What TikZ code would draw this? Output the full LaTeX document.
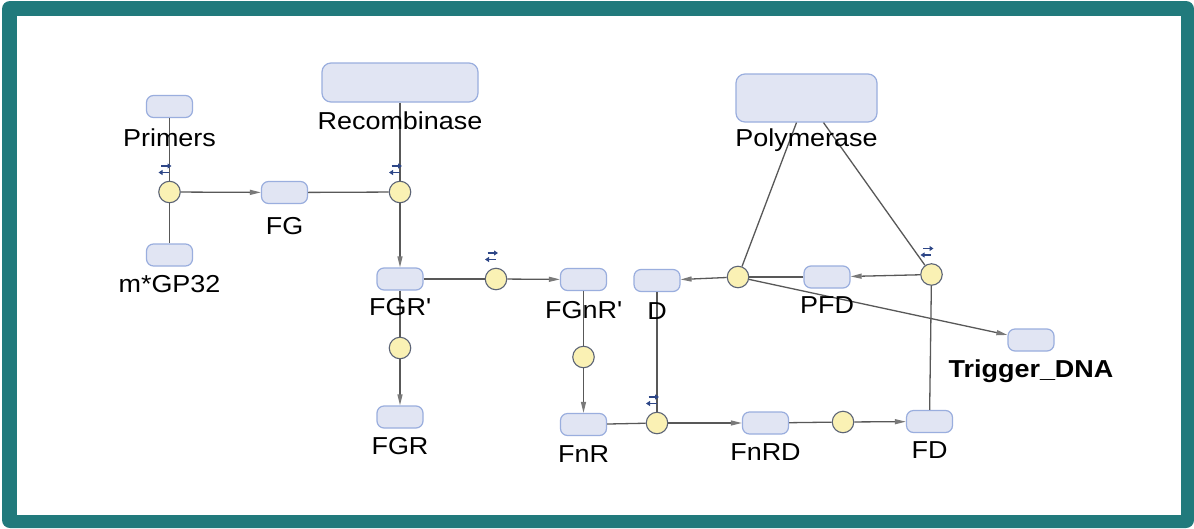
\documentclass[tikz,border=0pt]{standalone}
\usepackage{fontspec}
\setmainfont{Liberation Sans}[FakeStretch=1.1]
\usetikzlibrary{positioning,arrows.meta}

\definecolor{frameteal}{RGB}{33,122,124}
\definecolor{speciesfill}{RGB}{225,229,243}
\definecolor{speciesedge}{RGB}{154,174,222}
\definecolor{reactfill}{RGB}{250,241,180}
\definecolor{reactedge}{RGB}{92,100,118}
\definecolor{linkgray}{RGB}{88,88,88}
\definecolor{revblue}{RGB}{45,70,135}

\tikzset{
  species/.style={draw=speciesedge, fill=speciesfill, line width=1.2pt, rounded corners=7pt,
    minimum width=46pt, minimum height=22pt, inner sep=0pt},
  reaction/.style={circle, draw=reactedge, fill=reactfill, line width=1.1pt,
    minimum size=21.5pt, inner sep=0pt},
  lbl/.style={inner sep=0pt, font=\fontsize{24.5}{28}\selectfont},
  link/.style={draw=linkgray, line width=1.3pt},
  flow/.style={link, -{Triangle[length=11pt,width=5pt,color=linkgray!80]}},
  revmark/.style={draw=revblue, line width=1.3pt, -{Triangle[length=4pt,width=5pt]}},
}

\begin{document}
\begin{tikzpicture}[x=1pt,y=-1pt]
    \fill[white] (0,0) rectangle (1194,528);
    \fill[frameteal, rounded corners=8pt] (2,1) rectangle (1194,528);
    \fill[white] (17,16) rectangle (1181,515);

    \node[species] (prim) at (169.5,106.5) {};
    \node[species] (gp32) at (169.5,255) {};
    \node[species] (fg) at (284.5,192.5) {};
    \node[species, minimum width=156pt, minimum height=39pt, rounded corners=9pt] (rec) at (400,82.5) {};
    \node[species] (fgrp) at (400,279) {};
    \node[species] (fgr) at (400,417) {};
    \node[species] (fgnrp) at (583.5,279.5) {};
    \node[species] (fnr) at (583.5,424.5) {};
    \node[species] (dna) at (657,280.5) {};
    \node[species] (fnrd) at (765.5,423) {};
    \node[species] (fd) at (929.5,421.5) {};
    \node[species] (pfd) at (827,277) {};
    \node[species, minimum width=141pt, minimum height=48pt, rounded corners=9pt] (pol) at (806.5,98) {};
    \node[species] (trig) at (1031,340) {};

    \node[reaction] (r1) at (169.5,192) {};
    \node[reaction] (r2) at (400,192) {};
    \node[reaction] (r3) at (496,279) {};
    \node[reaction] (r4) at (400,348) {};
    \node[reaction] (r5) at (583.5,357) {};
    \node[reaction] (r6) at (657,423) {};
    \node[reaction] (r7) at (843,422) {};
    \node[reaction] (r8) at (738,277) {};
    \node[reaction] (r9) at (931.5,274.5) {};

    \draw[link] (prim) -- (r1);
    \draw[link] (gp32) -- (r1);
    \draw[flow] (r1) -- (fg);
    \draw[link] (fg) -- (r2);
    \draw[link] (rec) -- (r2);
    \draw[flow] (r2) -- (fgrp);
    \draw[link] (fgrp) -- (r3);
    \draw[flow] (r3) -- (fgnrp);
    \draw[link] (fgrp) -- (r4);
    \draw[flow] (r4) -- (fgr);
    \draw[link] (fgnrp) -- (r5);
    \draw[flow] (r5) -- (fnr);
    \draw[link] (fnr) -- (r6);
    \draw[link] (dna) -- (r6);
    \draw[flow] (r6) -- (fnrd);
    \draw[link] (fnrd) -- (r7);
    \draw[flow] (r7) -- (fd);
    \draw[link] (fd) -- (r9);
    \draw[link] ([xshift=17pt]pol.south) -- (r9);
    \draw[flow] (r9) -- (pfd);
    \draw[link] (pfd) -- (r8);
    \draw[link] ([xshift=-10pt]pol.south) -- (r8);
    \draw[flow] (r8) -- (dna);
    \draw[flow] (r8) -- (trig);

    \foreach \r in {r1,r2,r3,r6,r9} {
        \draw[revmark] ([xshift=-8.5pt, yshift=26pt]\r.center) -- ++(10.5,0);
        \draw[revmark] ([xshift=-0.5pt, yshift=19.5pt]\r.center) -- ++(-10.5,0);
    }

    \node[lbl, below=10pt of prim] {Primers};
    \node[lbl, below=9pt of gp32] {m*GP32};
    \node[lbl, below=13.5pt of fg] {FG};
    \node[lbl, below=9pt of rec] {Recombinase};
    \node[lbl, below=8pt of fgrp] {FGR\textquotesingle};
    \node[lbl, below=9pt of fgr] {FGR};
    \node[lbl, below=10pt of fgnrp] {FGnR\textquotesingle};
    \node[lbl, below=9pt of fnr] {FnR};
    \node[lbl, below=10pt of dna] {D};
    \node[lbl, below=9pt of fnrd] {FnRD};
    \node[lbl, below=8pt of fd] {FD};
    \node[lbl, below=8pt of pfd] {PFD};
    \node[lbl, below=6pt of pol] {Polymerase};
    \node[lbl, below=8pt of trig] {\bfseries Trigger\_DNA};
\end{tikzpicture}
\end{document}
